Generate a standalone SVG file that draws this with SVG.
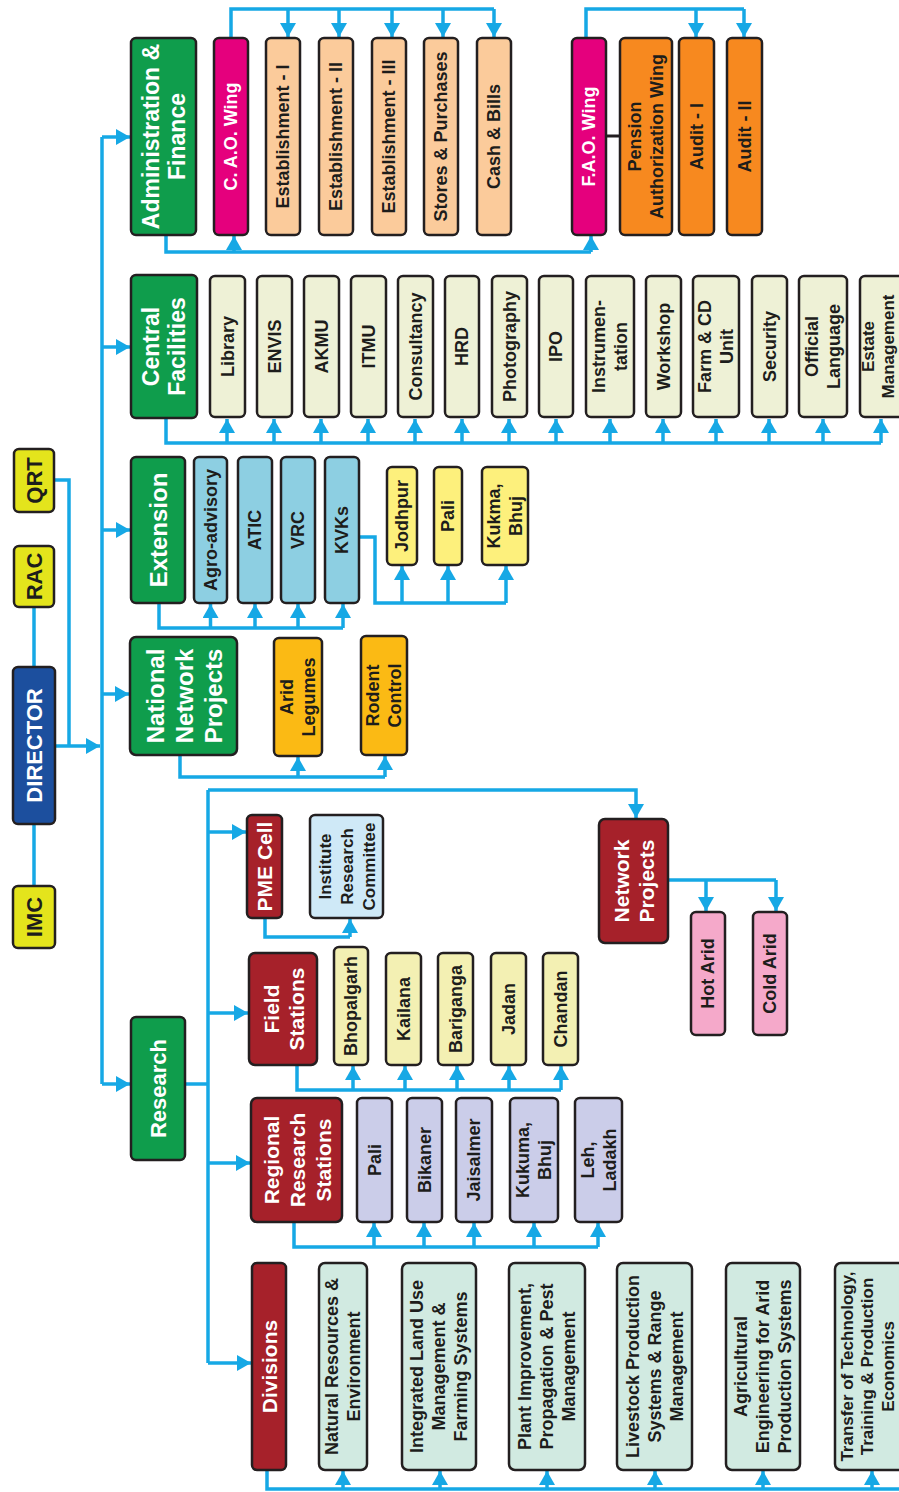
<svg xmlns="http://www.w3.org/2000/svg" width="899" height="1492" viewBox="0 0 899 1492">
<style>
.bx{stroke:#231f20;stroke-width:2.5}
.t{font-family:"Liberation Sans",Arial,Helvetica,sans-serif;font-weight:bold;text-anchor:middle;dominant-baseline:central}
.w{fill:#ffffff}
.k{fill:#1d1d1b}
.s18{font-size:18px}
.s21{font-size:21px}
.s23{font-size:23px}
.grn{fill:#0f9d4c}
.mag{fill:#e5007d}
.pch{fill:#fbcb9b}
.org{fill:#f7891f}
.cre{fill:#eef1d6}
.lbl{fill:#8dcfe2}
.ylw{fill:#fdf07c}
.gld{fill:#fbba14}
.red{fill:#a6212a}
.irc{fill:#cfe9f7}
.fld{fill:#f3f0b3}
.lav{fill:#cbcde9}
.mnt{fill:#d1eae1}
.pnk{fill:#f5a9ca}
.qy{fill:#e4e41c}
.dir{fill:#1c4f9e}
.c{fill:none;stroke:#16a8e5;stroke-width:3.5}
.a{marker-end:url(#ah)}
</style>
<defs>
<marker id="ah" markerWidth="14" markerHeight="16" refX="14" refY="8" orient="auto" markerUnits="userSpaceOnUse">
<path d="M0,0 L14,8 L0,16 Z" fill="#16a8e5"/>
</marker>
</defs>
<rect width="899" height="1492" fill="#ffffff"/>

<g id="connectors">
<path class="c" d="M54,480 H69 V746"/>
<path class="c" d="M34,607 V667"/>
<path class="c" d="M34,824 V886"/>
<path class="c a" d="M55,746 H100"/>
<path class="c" d="M102,137 V1084"/>
<path class="c a" d="M102,137 H130"/>
<path class="c a" d="M102,347 H130"/>
<path class="c a" d="M102,530 H130"/>
<path class="c a" d="M102,694 H129"/>
<path class="c a" d="M102,1084 H130"/>
<path class="c" d="M231,38 V9 H494"/>
<path class="c a" d="M288,9 V37"/>
<path class="c a" d="M339,9 V37"/>
<path class="c a" d="M392,9 V37"/>
<path class="c a" d="M443,9 V37"/>
<path class="c a" d="M494,9 V37"/>
<path class="c" d="M586,38 V9 H744"/>
<path class="c a" d="M696,9 V37"/>
<path class="c a" d="M744,9 V37"/>
<path class="c" d="M166,235 V252 H591"/>
<path class="c a" d="M234,252 V236"/>
<path class="c a" d="M591,252 V236"/>
<path d="M606,136 H620" fill="none" stroke="#231f20" stroke-width="3"/>
<path class="c" d="M166,418 V443 H881"/>
<path class="c a" d="M227,443 V419"/>
<path class="c a" d="M274,443 V419"/>
<path class="c a" d="M321,443 V419"/>
<path class="c a" d="M368,443 V419"/>
<path class="c a" d="M415,443 V419"/>
<path class="c a" d="M462,443 V419"/>
<path class="c a" d="M509,443 V419"/>
<path class="c a" d="M556,443 V419"/>
<path class="c a" d="M610,443 V419"/>
<path class="c a" d="M663,443 V419"/>
<path class="c a" d="M716,443 V419"/>
<path class="c a" d="M769,443 V419"/>
<path class="c a" d="M823,443 V419"/>
<path class="c a" d="M881,443 V419"/>
<path class="c" d="M159,603 V628 H343"/>
<path class="c a" d="M210.5,628 V604"/>
<path class="c a" d="M255,628 V604"/>
<path class="c a" d="M298,628 V604"/>
<path class="c a" d="M343,628 V604"/>
<path class="c" d="M359,537 H375 V603 H506"/>
<path class="c a" d="M402,603 V566"/>
<path class="c a" d="M448,603 V566"/>
<path class="c a" d="M506,603 V566"/>
<path class="c" d="M180,755 V777 H385"/>
<path class="c a" d="M298,777 V757"/>
<path class="c a" d="M385,777 V756"/>
<path class="c" d="M185,1084 H208"/>
<path class="c" d="M208,790 V1363"/>
<path class="c a" d="M208,790 H636 V818"/>
<path class="c a" d="M208,832 H246"/>
<path class="c a" d="M208,1013 H248"/>
<path class="c a" d="M208,1163 H250"/>
<path class="c a" d="M208,1363 H251"/>
<path class="c" d="M265,918 V937 H350"/>
<path class="c a" d="M350,937 V919"/>
<path class="c" d="M297,1065 V1090 H561"/>
<path class="c a" d="M353,1090 V1066"/>
<path class="c a" d="M405,1090 V1066"/>
<path class="c a" d="M457,1090 V1066"/>
<path class="c a" d="M509,1090 V1066"/>
<path class="c a" d="M561,1090 V1066"/>
<path class="c" d="M668,880 H776"/>
<path class="c a" d="M706,880 V911"/>
<path class="c a" d="M776,880 V911"/>
<path class="c" d="M294,1222 V1247 H598"/>
<path class="c a" d="M374,1247 V1223"/>
<path class="c a" d="M424,1247 V1223"/>
<path class="c a" d="M474,1247 V1223"/>
<path class="c a" d="M534,1247 V1223"/>
<path class="c a" d="M598,1247 V1223"/>
<path class="c" d="M267,1470 V1489 H899"/>
<path class="c a" d="M343,1489 V1471"/>
<path class="c a" d="M440,1489 V1471"/>
<path class="c a" d="M547,1489 V1471"/>
<path class="c a" d="M655,1489 V1471"/>
<path class="c a" d="M763,1489 V1471"/>
<path class="c a" d="M872,1489 V1471"/>
</g>

<g id="qrt"><rect class="bx qy" x="14" y="449" width="40" height="63" rx="5"/><text class="t k" font-size="22" transform="translate(34,480.5) rotate(-90)">QRT</text></g>
<g id="rac"><rect class="bx qy" x="14" y="546" width="40" height="61" rx="5"/><text class="t k" font-size="22" transform="translate(34,576.5) rotate(-90)">RAC</text></g>
<g id="director"><rect class="bx dir" x="13" y="667" width="42" height="157" rx="5"/><text class="t w" font-size="22" transform="translate(34,745.5) rotate(-90)">DIRECTOR</text></g>
<g id="imc"><rect class="bx qy" x="13" y="886" width="42" height="62" rx="5"/><text class="t k" font-size="22" transform="translate(34,917) rotate(-90)">IMC</text></g>

<g id="admin"><rect class="bx grn" x="131" y="38" width="65" height="197" rx="5"/><text class="t w s23" transform="translate(163.5,136.5) rotate(-90)"><tspan x="0" y="-13">Administration &amp;</tspan><tspan x="0" y="13">Finance</tspan></text></g>
<g id="cao"><rect class="bx mag" x="214" y="38" width="34" height="197" rx="5"/><text class="t w s18" transform="translate(231,136.5) rotate(-90)">C. A.O. Wing</text></g>
<g id="est1"><rect class="bx pch" x="266" y="38" width="34" height="197" rx="5"/><text class="t k s18" transform="translate(283,136.5) rotate(-90)">Establishment - I</text></g>
<g id="est2"><rect class="bx pch" x="319" y="38" width="34" height="197" rx="5"/><text class="t k s18" transform="translate(336,136.5) rotate(-90)">Establishment - II</text></g>
<g id="est3"><rect class="bx pch" x="372" y="38" width="34" height="197" rx="5"/><text class="t k s18" transform="translate(389,136.5) rotate(-90)">Establishment - III</text></g>
<g id="stores"><rect class="bx pch" x="424" y="38" width="34" height="197" rx="5"/><text class="t k s18" transform="translate(441,136.5) rotate(-90)">Stores &amp; Purchases</text></g>
<g id="cash"><rect class="bx pch" x="477" y="38" width="34" height="197" rx="5"/><text class="t k s18" transform="translate(494,136.5) rotate(-90)">Cash &amp; Bills</text></g>
<g id="fao"><rect class="bx mag" x="572" y="38" width="34" height="197" rx="5"/><text class="t w s18" transform="translate(589,136.5) rotate(-90)">F.A.O. Wing</text></g>
<g id="pension"><rect class="bx org" x="620" y="38" width="52" height="197" rx="5"/><text class="t k s18" transform="translate(646,136.5) rotate(-90)"><tspan x="0" y="-11">Pension</tspan><tspan x="0" y="11">Authorization Wing</tspan></text></g>
<g id="audit1"><rect class="bx org" x="679" y="38" width="35" height="197" rx="5"/><text class="t k s18" transform="translate(696.5,136.5) rotate(-90)">Audit - I</text></g>
<g id="audit2"><rect class="bx org" x="727" y="38" width="35" height="197" rx="5"/><text class="t k s18" transform="translate(744.5,136.5) rotate(-90)">Audit - II</text></g>

<g id="central"><rect class="bx grn" x="131" y="275" width="66" height="143" rx="5"/><text class="t w s23" transform="translate(164,346.5) rotate(-90)"><tspan x="0" y="-13">Central</tspan><tspan x="0" y="13">Facilities</tspan></text></g>
<g id="library"><rect class="bx cre" x="210" y="276" width="35" height="141" rx="5"/><text class="t k s18" transform="translate(227.5,346.5) rotate(-90)">Library</text></g>
<g id="envis"><rect class="bx cre" x="257" y="276" width="35" height="141" rx="5"/><text class="t k s18" transform="translate(274.5,346.5) rotate(-90)">ENVIS</text></g>
<g id="akmu"><rect class="bx cre" x="304" y="276" width="35" height="141" rx="5"/><text class="t k s18" transform="translate(321.5,346.5) rotate(-90)">AKMU</text></g>
<g id="itmu"><rect class="bx cre" x="351" y="276" width="35" height="141" rx="5"/><text class="t k s18" transform="translate(368.5,346.5) rotate(-90)">ITMU</text></g>
<g id="consultancy"><rect class="bx cre" x="398" y="276" width="35" height="141" rx="5"/><text class="t k s18" transform="translate(415.5,346.5) rotate(-90)">Consultancy</text></g>
<g id="hrd"><rect class="bx cre" x="445" y="276" width="34" height="141" rx="5"/><text class="t k s18" transform="translate(462,346.5) rotate(-90)">HRD</text></g>
<g id="photography"><rect class="bx cre" x="492" y="276" width="35" height="141" rx="5"/><text class="t k s18" transform="translate(509.5,346.5) rotate(-90)">Photography</text></g>
<g id="ipo"><rect class="bx cre" x="539" y="276" width="34" height="141" rx="5"/><text class="t k s18" transform="translate(556,346.5) rotate(-90)">IPO</text></g>
<g id="instrumentation"><rect class="bx cre" x="586" y="276" width="48" height="141" rx="5"/><text class="t k s18" transform="translate(610,346.5) rotate(-90)"><tspan x="0" y="-11">Instrumen-</tspan><tspan x="0" y="11">tation</tspan></text></g>
<g id="workshop"><rect class="bx cre" x="646" y="276" width="35" height="141" rx="5"/><text class="t k s18" transform="translate(663.5,346.5) rotate(-90)">Workshop</text></g>
<g id="farm"><rect class="bx cre" x="693" y="276" width="46" height="141" rx="5"/><text class="t k s18" transform="translate(716,346.5) rotate(-90)"><tspan x="0" y="-11">Farm &amp; CD</tspan><tspan x="0" y="11">Unit</tspan></text></g>
<g id="security"><rect class="bx cre" x="752" y="276" width="35" height="141" rx="5"/><text class="t k s18" transform="translate(769.5,346.5) rotate(-90)">Security</text></g>
<g id="official"><rect class="bx cre" x="799" y="276" width="48" height="141" rx="5"/><text class="t k s18" transform="translate(823,346.5) rotate(-90)"><tspan x="0" y="-11">Official</tspan><tspan x="0" y="11">Language</tspan></text></g>
<g id="estate"><rect class="bx cre" x="860" y="276" width="50" height="141" rx="5"/><text class="t k" font-size="17" transform="translate(878,346.5) rotate(-90)"><tspan x="0" y="-10">Estate</tspan><tspan x="0" y="10">Management</tspan></text></g>

<g id="extension"><rect class="bx grn" x="131" y="457" width="54" height="146" rx="5"/><text class="t w" font-size="24" transform="translate(158,530) rotate(-90)">Extension</text></g>
<g id="agro"><rect class="bx lbl" x="194" y="457" width="33" height="146" rx="5"/><text class="t k s18" transform="translate(210.5,530) rotate(-90)">Agro-advisory</text></g>
<g id="atic"><rect class="bx lbl" x="238" y="457" width="34" height="146" rx="5"/><text class="t k s18" transform="translate(255,530) rotate(-90)">ATIC</text></g>
<g id="vrc"><rect class="bx lbl" x="281" y="457" width="34" height="146" rx="5"/><text class="t k s18" transform="translate(298,530) rotate(-90)">VRC</text></g>
<g id="kvks"><rect class="bx lbl" x="325" y="457" width="34" height="146" rx="5"/><text class="t k s18" transform="translate(342,530) rotate(-90)">KVKs</text></g>
<g id="jodhpur"><rect class="bx ylw" x="387" y="467" width="30" height="98" rx="5"/><text class="t k s18" transform="translate(402,516) rotate(-90)">Jodhpur</text></g>
<g id="pali-kvk"><rect class="bx ylw" x="434" y="467" width="28" height="98" rx="5"/><text class="t k s18" transform="translate(448,516) rotate(-90)">Pali</text></g>
<g id="kukma-kvk"><rect class="bx ylw" x="482" y="467" width="46" height="98" rx="5"/><text class="t k s18" transform="translate(505,516) rotate(-90)"><tspan x="0" y="-11">Kukma,</tspan><tspan x="0" y="11">Bhuj</tspan></text></g>

<g id="nnp"><rect class="bx grn" x="130" y="637" width="107" height="118" rx="6"/><text class="t w" font-size="24" transform="translate(183.5,696) rotate(-90)"><tspan x="0" y="-29">National</tspan><tspan x="0" y="0">Network</tspan><tspan x="0" y="29">Projects</tspan></text></g>
<g id="arid-legumes"><rect class="bx gld" x="274" y="638" width="48" height="118" rx="5"/><text class="t k s18" transform="translate(298,697) rotate(-90)"><tspan x="0" y="-11">Arid</tspan><tspan x="0" y="11">Legumes</tspan></text></g>
<g id="rodent"><rect class="bx gld" x="361" y="636" width="46" height="119" rx="5"/><text class="t k s18" transform="translate(384,695.5) rotate(-90)"><tspan x="0" y="-11">Rodent</tspan><tspan x="0" y="11">Control</tspan></text></g>

<g id="research"><rect class="bx grn" x="131" y="1017" width="54" height="143" rx="5"/><text class="t w" font-size="22" transform="translate(158,1088.5) rotate(-90)">Research</text></g>
<g id="pme"><rect class="bx red" x="247" y="815" width="35" height="103" rx="5"/><text class="t w s21" transform="translate(264.5,866.5) rotate(-90)">PME Cell</text></g>
<g id="irc"><rect class="bx irc" x="310" y="815" width="73" height="103" rx="5"/><text class="t k" font-size="17" transform="translate(346.5,866.5) rotate(-90)"><tspan x="0" y="-22">Institute</tspan><tspan x="0" y="0">Research</tspan><tspan x="0" y="22">Committee</tspan></text></g>
<g id="field"><rect class="bx red" x="249" y="953" width="68" height="112" rx="6"/><text class="t w s21" transform="translate(283,1009) rotate(-90)"><tspan x="0" y="-12.5">Field</tspan><tspan x="0" y="12.5">Stations</tspan></text></g>
<g id="bhopalgarh"><rect class="bx fld" x="334" y="947" width="34" height="118" rx="5"/><text class="t k s18" transform="translate(351,1006) rotate(-90)">Bhopalgarh</text></g>
<g id="kailana"><rect class="bx fld" x="386" y="953" width="35" height="112" rx="5"/><text class="t k s18" transform="translate(403.5,1009) rotate(-90)">Kailana</text></g>
<g id="bariganga"><rect class="bx fld" x="438" y="953" width="35" height="112" rx="5"/><text class="t k s18" transform="translate(455.5,1009) rotate(-90)">Bariganga</text></g>
<g id="jadan"><rect class="bx fld" x="491" y="953" width="35" height="112" rx="5"/><text class="t k s18" transform="translate(508.5,1009) rotate(-90)">Jadan</text></g>
<g id="chandan"><rect class="bx fld" x="543" y="953" width="35" height="112" rx="5"/><text class="t k s18" transform="translate(560.5,1009) rotate(-90)">Chandan</text></g>
<g id="network"><rect class="bx red" x="599" y="819" width="69" height="124" rx="6"/><text class="t w s21" transform="translate(633.5,881) rotate(-90)"><tspan x="0" y="-12.5">Network</tspan><tspan x="0" y="12.5">Projects</tspan></text></g>
<g id="hot-arid"><rect class="bx pnk" x="691" y="912" width="34" height="123" rx="5"/><text class="t k s18" transform="translate(708,973.5) rotate(-90)">Hot Arid</text></g>
<g id="cold-arid"><rect class="bx pnk" x="753" y="912" width="34" height="123" rx="5"/><text class="t k s18" transform="translate(770,973.5) rotate(-90)">Cold Arid</text></g>

<g id="regional"><rect class="bx red" x="251" y="1098" width="91" height="124" rx="6"/><text class="t w s21" transform="translate(296.5,1160) rotate(-90)"><tspan x="0" y="-26">Regional</tspan><tspan x="0" y="0">Research</tspan><tspan x="0" y="26">Stations</tspan></text></g>
<g id="pali-rrs"><rect class="bx lav" x="357" y="1098" width="35" height="124" rx="5"/><text class="t k s18" transform="translate(374.5,1160) rotate(-90)">Pali</text></g>
<g id="bikaner"><rect class="bx lav" x="407" y="1098" width="35" height="124" rx="5"/><text class="t k s18" transform="translate(424.5,1160) rotate(-90)">Bikaner</text></g>
<g id="jaisalmer"><rect class="bx lav" x="456" y="1098" width="36" height="124" rx="5"/><text class="t k s18" transform="translate(474,1160) rotate(-90)">Jaisalmer</text></g>
<g id="kukuma-rrs"><rect class="bx lav" x="510" y="1098" width="48" height="124" rx="5"/><text class="t k s18" transform="translate(534,1160) rotate(-90)"><tspan x="0" y="-11">Kukuma,</tspan><tspan x="0" y="11">Bhuj</tspan></text></g>
<g id="leh"><rect class="bx lav" x="575" y="1098" width="47" height="124" rx="5"/><text class="t k s18" transform="translate(598.5,1160) rotate(-90)"><tspan x="0" y="-11">Leh,</tspan><tspan x="0" y="11">Ladakh</tspan></text></g>

<g id="divisions"><rect class="bx red" x="252" y="1263" width="34" height="207" rx="5"/><text class="t w s21" transform="translate(269,1366.5) rotate(-90)">Divisions</text></g>
<g id="div-nre"><rect class="bx mnt" x="319" y="1263" width="48" height="207" rx="6"/><text class="t k s18" transform="translate(343,1366.5) rotate(-90)"><tspan x="0" y="-11">Natural Resources &amp;</tspan><tspan x="0" y="11">Environment</tspan></text></g>
<g id="div-ilu"><rect class="bx mnt" x="402" y="1263" width="74" height="207" rx="6"/><text class="t k s18" transform="translate(439,1366.5) rotate(-90)"><tspan x="0" y="-22">Integrated Land Use</tspan><tspan x="0" y="0">Management &amp;</tspan><tspan x="0" y="22">Farming Systems</tspan></text></g>
<g id="div-pip"><rect class="bx mnt" x="509" y="1263" width="76" height="207" rx="6"/><text class="t k s18" transform="translate(547,1366.5) rotate(-90)"><tspan x="0" y="-22">Plant Improvement,</tspan><tspan x="0" y="0">Propagation &amp; Pest</tspan><tspan x="0" y="22">Management</tspan></text></g>
<g id="div-lps"><rect class="bx mnt" x="617" y="1263" width="75" height="207" rx="6"/><text class="t k s18" transform="translate(654.5,1366.5) rotate(-90)"><tspan x="0" y="-22">Livestock Production</tspan><tspan x="0" y="0">Systems &amp; Range</tspan><tspan x="0" y="22">Management</tspan></text></g>
<g id="div-aea"><rect class="bx mnt" x="726" y="1263" width="74" height="207" rx="6"/><text class="t k s18" transform="translate(763,1366.5) rotate(-90)"><tspan x="0" y="-22">Agricultural</tspan><tspan x="0" y="0">Engineering for Arid</tspan><tspan x="0" y="22">Production Systems</tspan></text></g>
<g id="div-tot"><rect class="bx mnt" x="835" y="1263" width="74" height="207" rx="6"/><text class="t k" font-size="17" transform="translate(867,1366.5) rotate(-90)"><tspan x="0" y="-20.5">Transfer of Technology,</tspan><tspan x="0" y="0">Training &amp; Production</tspan><tspan x="0" y="20.5">Economics</tspan></text></g>
</svg>
